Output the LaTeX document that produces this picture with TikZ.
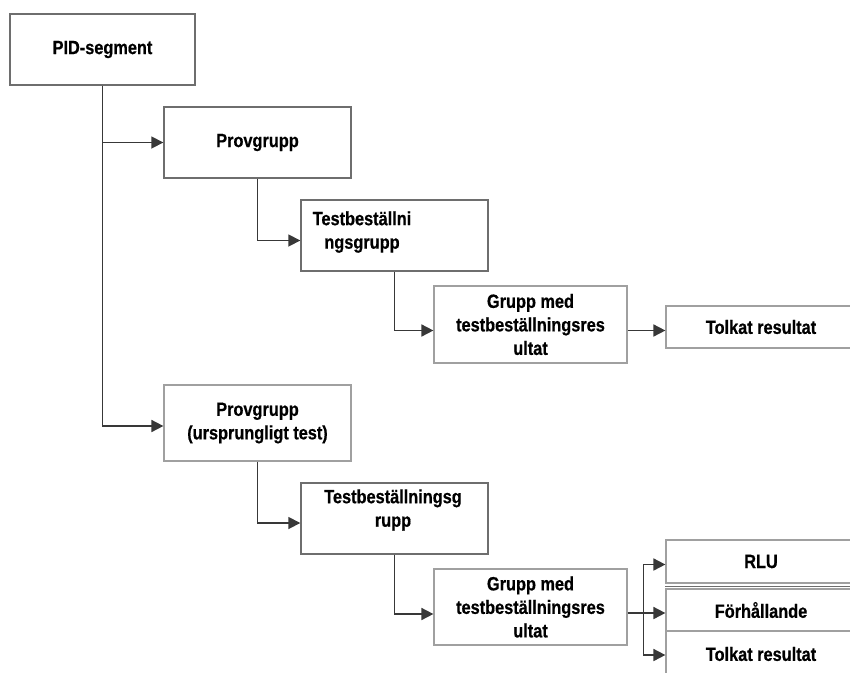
\documentclass[tikz,border=0pt]{standalone}
\usepackage{fontspec}
\newfontfamily\boxfont{Liberation Sans}[FakeStretch=0.85,BoldFeatures={FakeBold=0.6}]
\usetikzlibrary{arrows.meta,calc}
\definecolor{connc}{HTML}{383838}
\definecolor{borderdark}{HTML}{6E6E6E}
\definecolor{borderlight}{HTML}{A0A0A0}
\tikzset{
  box/.style={draw=borderdark, line width=1.4pt, fill=white, inner sep=0pt,
    align=center, font=\boxfont\bfseries\fontsize{19.2}{23.5}\selectfont},
  lbox/.style={box, draw=borderlight, line width=1.2pt},
  txt/.style={inner sep=0pt, align=center, font=\boxfont\bfseries\fontsize{19.2}{23.5}\selectfont},
  conn/.style={draw=connc, line width=1.7pt},
  arr/.style={conn, -{Triangle[length=12pt,width=12pt]}}
}
\begin{document}
\begin{tikzpicture}[x=1pt,y=-1pt]
\useasboundingbox (0,0) rectangle (850,672);
\clip (0,0) rectangle (850,672);
\fill[white] (0,0) rectangle (850,672);

% boxes
\node[box, minimum width=185pt, minimum height=71pt] (pid) at (102.5,49.5) {PID-segment};
\node[box, minimum width=187pt, minimum height=71pt] (prov1) at (257.5,142.5) {Provgrupp};
\node[box, minimum width=187pt, minimum height=71pt] (tb1) at (394.5,235.5) {};
\node[txt] (tb1t) at (362,232) {Testbeställni\\ngsgrupp};
\node[lbox, minimum width=193pt, minimum height=77pt] (g1) at (530.5,324.5) {Grupp med\\testbeställningsres\\ultat};
\node[lbox, minimum width=190pt, minimum height=42pt] (tolk1) at (761,327) {Tolkat resultat};

\node[lbox, minimum width=187pt, minimum height=76pt] (prov2) at (257.5,423) {Provgrupp\\(ursprungligt test)};
\node[box, minimum width=187pt, minimum height=71pt] (tb2) at (394.5,518.5) {};
\node[txt] (tb2t) at (393,510) {Testbeställningsg\\rupp};
\node[lbox, minimum width=193pt, minimum height=76pt] (g2) at (530.5,607) {Grupp med\\testbeställningsres\\ultat};
\node[lbox, minimum width=190pt, minimum height=43pt] (rlu) at (761,561.5) {RLU};
\draw[borderdark, line width=1.1pt] ([yshift=-2.5pt]rlu.south west) -- ([yshift=-2.5pt]rlu.south east);
\node[lbox, minimum width=190pt, minimum height=42pt] (forh) at (761,610) {Förhållande};
\node[lbox, minimum width=190pt, minimum height=46pt] (tolk2) at (761,654) {Tolkat resultat};

% connectors
\draw[arr] (pid.south) |- (prov1.west);
\draw[arr] (pid.south) |- ([yshift=-3pt]prov2.west);
\draw[arr] (prov1.south) |- ([yshift=-5pt]tb1.west);
\draw[arr] (tb1.south) |- ([yshift=-6pt]g1.west);
\draw[arr] ([yshift=-6pt]g1.east) -- ([yshift=-6pt]g1.east -| tolk1.west);
\draw[arr] (prov2.south) |- ([yshift=-4.5pt]tb2.west);
\draw[arr] (tb2.south) |- ([yshift=-7pt]g2.west);
\coordinate (br) at ([xshift=16pt,yshift=-6pt]g2.east);
\draw[conn] ([yshift=-6pt]g2.east) -- (br);
\draw[arr] (br) |- ([yshift=-3pt]rlu.west);
\draw[arr] (br) |- ([yshift=-3pt]forh.west);
\draw[arr] (br) |- ([yshift=-1pt]tolk2.west);
\end{tikzpicture}
\end{document}
